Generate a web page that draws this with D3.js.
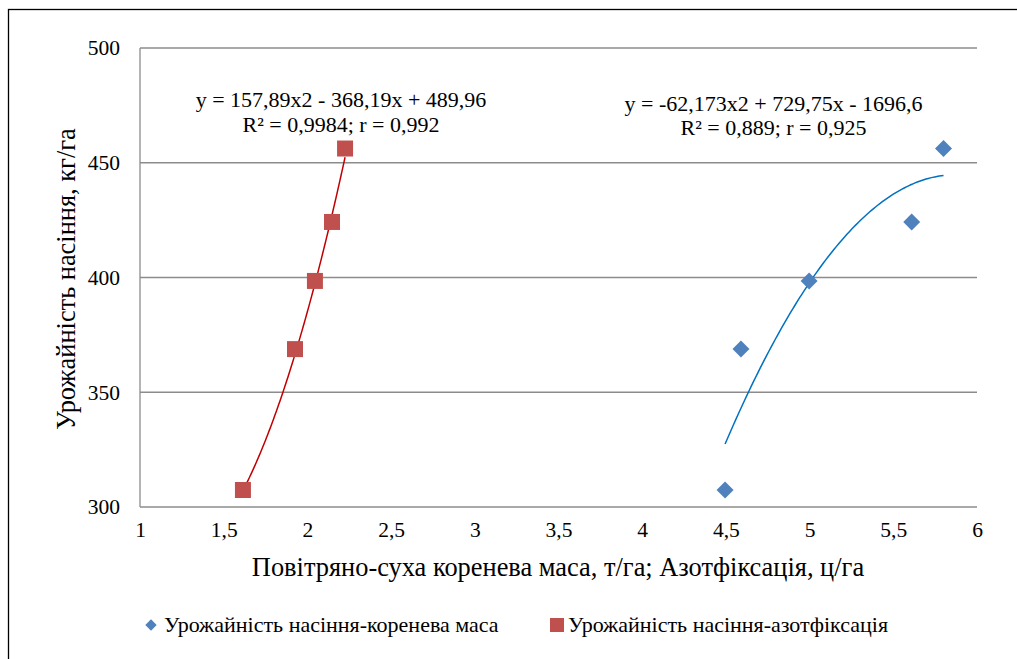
<!DOCTYPE html>
<html><head><meta charset="utf-8">
<script src="https://cdn.jsdelivr.net/npm/d3@7"></script>
<style>body{margin:0;background:#fff}svg{display:block}</style>
</head><body>
<svg id="c" width="1017" height="659" font-family="Liberation Serif"></svg>
<script>
const rootX = [4.495, 4.59, 4.997, 5.61, 5.80];
const rootY = [307.4, 368.8, 398.5, 424.2, 456.2];
const azotX = [1.615, 1.926, 2.045, 2.147, 2.225];
const azotY = [307.4, 368.8, 398.5, 424.2, 456.2];
const rootFit = [-62.173, 729.75, -1696.6];
const azotFit = [157.89, -368.19, 489.96];
const xTicks = [1, 1.5, 2, 2.5, 3, 3.5, 4, 4.5, 5, 5.5, 6];
const yTicks = [300, 350, 400, 450, 500];
const seriesNames = ["Урожайність насіння-коренева маса", "Урожайність насіння-азотфіксація"];
const eqRoot = ["y = -62,173x2 + 729,75x - 1696,6", "R² = 0,889; r = 0,925"];
const eqAzot = ["y = 157,89x2 - 368,19x + 489,96", "R² = 0,9984; r = 0,992"];
const xTitle = "Повітряно-суха коренева маса, т/га; Азотфіксація, ц/га";
const yTitle = "Урожайність насіння, кг/га";

const svg = d3.select("#c");
svg.append("rect").attr("x",8.5).attr("y",9.5).attr("width",1030).attr("height",700).attr("fill","none").attr("stroke","#000").attr("stroke-width",1.3);

const x = d3.scaleLinear().domain([1,6]).range([140,977]);
const y = d3.scaleLinear().domain([300,500]).range([507,48]);

const grid = svg.append("g");
yTicks.forEach(t=>{
  grid.append("line").attr("x1",140).attr("x2",977).attr("y1",y(t)).attr("y2",y(t)).attr("stroke","#8c8c8c").attr("stroke-width",1.3);
});
svg.append("line").attr("x1",x(1)).attr("x2",x(1)).attr("y1",y(500)).attr("y2",y(300)).attr("stroke","#8c8c8c").attr("stroke-width",1.3);

const yAxis = svg.append("g").attr("transform","translate(140,0)").call(d3.axisLeft(y).tickValues(yTicks).tickSize(0).tickPadding(20).tickFormat(d=>d));
yAxis.attr("font-family","Liberation Serif").attr("font-size",21.5);
yAxis.select(".domain").remove();
yAxis.selectAll("text").attr("fill","#000").attr("font-size",21.5);
const fmt = d=>String(d).replace(".",",");
const xAxis = svg.append("g").attr("transform","translate(0,507)").call(d3.axisBottom(x).tickValues(xTicks).tickSize(0).tickPadding(15).tickFormat(fmt));
xAxis.attr("font-family","Liberation Serif").attr("font-size",21.5);
xAxis.select(".domain").remove();
xAxis.selectAll("text").attr("fill","#000").attr("font-size",21.5);

svg.append("text").attr("x",558).attr("y",576).attr("text-anchor","middle").attr("font-size",26.4).text(xTitle);
svg.append("text").attr("transform","translate(75,279) rotate(-90)").attr("text-anchor","middle").attr("font-size",26.4).text(yTitle);

function curve(c, x0, x1){
  const xs = d3.range(0,101).map(i=>x0+(x1-x0)*i/100);
  return d3.line().x(d=>x(d)).y(d=>y(c[0]*d*d+c[1]*d+c[2]))(xs);
}
svg.append("path").attr("d",curve(azotFit, d3.min(azotX), d3.max(azotX))).attr("fill","none").attr("stroke","#c00000").attr("stroke-width",1.5);
svg.append("path").attr("d",curve(rootFit, d3.min(rootX), d3.max(rootX))).attr("fill","none").attr("stroke","#0070c0").attr("stroke-width",1.5);

const sq = d3.symbol().type(d3.symbolSquare).size(256);
const dm = d3.symbol().type(d3.symbolSquare).size(144);
svg.append("g").selectAll("path").data(d3.zip(azotX,azotY)).join("path").attr("d",sq).attr("transform",d=>`translate(${x(d[0])},${y(d[1])})`).attr("fill","#c0504d");
svg.append("g").selectAll("path").data(d3.zip(rootX,rootY)).join("path").attr("d",dm).attr("transform",d=>`translate(${x(d[0])},${y(d[1])}) rotate(45)`).attr("fill","#4f81bd");

const eqA = svg.append("text").attr("text-anchor","middle").attr("font-size",22);
eqA.append("tspan").attr("x",341).attr("y",107).text(eqAzot[0]);
eqA.append("tspan").attr("x",341).attr("y",132).text(eqAzot[1]);
const eqR = svg.append("text").attr("text-anchor","middle").attr("font-size",22);
eqR.append("tspan").attr("x",773.5).attr("y",111).text(eqRoot[0]);
eqR.append("tspan").attr("x",773.5).attr("y",135).text(eqRoot[1]);

// legend
const lg = svg.append("g");
lg.append("path").attr("d",d3.symbol().type(d3.symbolSquare).size(64)).attr("transform","translate(151,625) rotate(45)").attr("fill","#4f81bd");
lg.append("text").attr("x",164).attr("y",632).attr("font-size",22).text(seriesNames[0]);
lg.append("rect").attr("x",550).attr("y",618).attr("width",14).attr("height",14).attr("fill","#c0504d");
lg.append("text").attr("x",568).attr("y",632).attr("font-size",22).text(seriesNames[1]);

svg.selectAll("text").attr("font-family","Liberation Serif");
</script>
</body></html>
